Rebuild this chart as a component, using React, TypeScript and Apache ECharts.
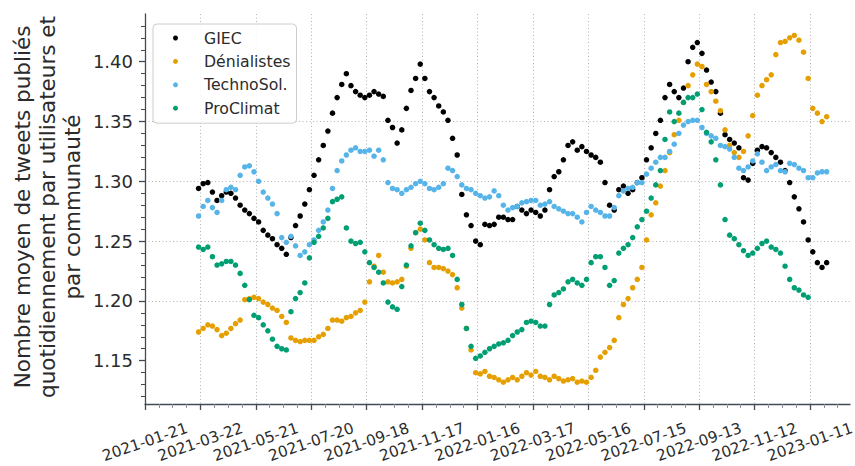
import React, { useEffect, useRef } from "react";
import * as echarts from "echarts";

// ---- axis definitions ----
const AXIS_START = "2021-01-21";
const AXIS_END_DAY = 763.3;
const X_TICK_DAYS = [0, 60, 120, 180, 240, 300, 360, 420, 480, 540, 600, 660, 720];
const Y_TICKS = [1.15, 1.2, 1.25, 1.3, 1.35, 1.4];
const Y_MIN = 1.1138;
const Y_MAX = 1.4399;

// ---- data sampling ----
const DATA_START = "2021-03-20";
const DATA_STEP_DAYS = 5;

const SERIES_NAMES = ["GIEC", "Dénialistes", "TechnoSol.", "ProClimat"];
const COLORS = ["#000000", "#E69F00", "#56B4E9", "#009E73"];

const GIEC = [
  1.294, 1.298, 1.299, 1.291, 1.284, 1.288, 1.291, 1.29, 1.286, 1.28,
  1.276, 1.273, 1.269, 1.266, 1.259, 1.255, 1.252, 1.247, 1.244, 1.239,
  1.253, 1.263, 1.271, 1.281, 1.293, 1.305, 1.318, 1.33, 1.342, 1.357,
  1.37, 1.381, 1.39, 1.38, 1.375, 1.372, 1.37, 1.372, 1.375, 1.373,
  1.371, 1.351, 1.345, 1.332, 1.343, 1.361, 1.376, 1.386, 1.398, 1.386,
  1.375, 1.37, 1.363, 1.358, 1.351, 1.336, 1.322, 1.289, 1.272, 1.263,
  1.25, 1.247, 1.264, 1.263, 1.264, 1.27, 1.27, 1.268, 1.268, 1.279,
  1.276, 1.273, 1.276, 1.274, 1.271, 1.276, 1.293, 1.304, 1.308, 1.318,
  1.33, 1.333, 1.326, 1.329, 1.325, 1.322, 1.32, 1.316, 1.299, 1.28,
  1.276, 1.293, 1.296, 1.29, 1.293, 1.299, 1.303, 1.318, 1.328, 1.34,
  1.351, 1.37, 1.381, 1.375, 1.37, 1.378, 1.4, 1.412, 1.416, 1.407,
  1.393, 1.383, 1.375, 1.357, 1.339, 1.335, 1.332, 1.328, 1.303, 1.301,
  1.315, 1.326, 1.329, 1.328, 1.324, 1.32, 1.316, 1.309, 1.299, 1.287,
  1.277, 1.266, 1.251, 1.241, 1.232, 1.228, 1.232,
];

const DENIALISTES = [
  1.174, 1.177, 1.18, 1.179, 1.176, 1.171, 1.173, 1.177, 1.181, 1.184,
  1.201, 1.202, 1.203, 1.202, 1.199, 1.197, 1.194, 1.192, 1.187, 1.182,
  1.169, 1.167, 1.166, 1.167, 1.167, 1.167, 1.17, 1.172, 1.177, 1.184,
  1.184, 1.183, 1.186, 1.187, 1.19, 1.192, 1.199, 1.216, 1.229, 1.238,
  1.224, 1.216, 1.215, 1.216, 1.218, 1.229, 1.244, 1.257, 1.26, 1.251,
  1.232, 1.228, 1.228, 1.227, 1.225, 1.222, 1.211, 1.194, 1.177, 1.159,
  1.14, 1.139, 1.141, 1.137, 1.136, 1.134, 1.132, 1.134, 1.136, 1.134,
  1.137, 1.14, 1.138, 1.141, 1.137, 1.136, 1.134, 1.137, 1.135, 1.133,
  1.134, 1.135, 1.132, 1.133, 1.132, 1.136, 1.142, 1.153, 1.157, 1.161,
  1.167, 1.186, 1.197, 1.202, 1.211, 1.218, 1.228, 1.251, 1.272, 1.282,
  1.296, 1.309, 1.324, 1.339, 1.351, 1.366, 1.38, 1.389, 1.398, 1.396,
  1.381, 1.375, 1.367, 1.359, 1.343, 1.33, 1.324, 1.32, 1.325, 1.338,
  1.355, 1.372, 1.38, 1.385, 1.389, 1.406, 1.416, 1.417, 1.42, 1.422,
  1.418, 1.408, 1.386, 1.361, 1.357, 1.35, 1.354,
];

const TECHNOSOL = [
  1.271, 1.279, 1.284, 1.278, 1.274, 1.284, 1.293, 1.295, 1.293, 1.305,
  1.312, 1.313, 1.308, 1.3, 1.291, 1.286, 1.281, 1.273, 1.253, 1.249,
  1.254, 1.246, 1.238, 1.241, 1.247, 1.251, 1.259, 1.266, 1.276, 1.294,
  1.309, 1.317, 1.322, 1.326, 1.328, 1.325, 1.325, 1.326, 1.321, 1.326,
  1.318, 1.299, 1.294, 1.293, 1.29, 1.293, 1.295, 1.298, 1.3, 1.298,
  1.294, 1.293, 1.295, 1.298, 1.311, 1.309, 1.304, 1.297, 1.294, 1.293,
  1.29, 1.288, 1.286, 1.287, 1.292, 1.288, 1.28, 1.276, 1.278, 1.279,
  1.282, 1.283, 1.284, 1.284, 1.28, 1.281, 1.283, 1.279, 1.277, 1.275,
  1.273, 1.273, 1.27, 1.266, 1.274, 1.279, 1.276, 1.274, 1.271, 1.271,
  1.278, 1.288, 1.292, 1.294, 1.295, 1.299, 1.299, 1.306, 1.311, 1.316,
  1.32, 1.32, 1.325, 1.331, 1.34, 1.347, 1.35, 1.351, 1.351, 1.345,
  1.34, 1.338, 1.336, 1.33, 1.329, 1.327, 1.32, 1.311, 1.309, 1.312,
  1.317, 1.323, 1.316, 1.309, 1.312, 1.314, 1.309, 1.308, 1.315, 1.314,
  1.311, 1.309, 1.303, 1.303, 1.307, 1.308, 1.308,
];

const PROCLIMAT = [
  1.245, 1.243, 1.245, 1.237, 1.23, 1.231, 1.233, 1.233, 1.23, 1.223,
  1.213, 1.201, 1.188, 1.186, 1.18, 1.175, 1.168, 1.162, 1.16, 1.159,
  1.191, 1.202, 1.207, 1.215, 1.236, 1.249, 1.254, 1.261, 1.269, 1.283,
  1.285, 1.287, 1.261, 1.25, 1.248, 1.249, 1.241, 1.232, 1.228, 1.224,
  1.215, 1.199, 1.195, 1.193, 1.212, 1.23, 1.246, 1.257, 1.265, 1.259,
  1.251, 1.247, 1.244, 1.243, 1.244, 1.238, 1.218, 1.197, 1.177, 1.162,
  1.152, 1.154, 1.157, 1.16, 1.162, 1.164, 1.165, 1.167, 1.171, 1.174,
  1.176, 1.182, 1.183, 1.182, 1.179, 1.179, 1.197, 1.205, 1.207, 1.21,
  1.216, 1.218, 1.215, 1.213, 1.218, 1.232, 1.237, 1.237, 1.228, 1.213,
  1.217, 1.24, 1.244, 1.247, 1.253, 1.262, 1.268, 1.275, 1.286, 1.297,
  1.309, 1.335, 1.358, 1.35, 1.357, 1.366, 1.37, 1.37, 1.373, 1.36,
  1.341, 1.333, 1.318, 1.297, 1.268, 1.255, 1.252, 1.247, 1.242, 1.238,
  1.24, 1.244, 1.248, 1.25, 1.245, 1.243, 1.24, 1.229, 1.218, 1.211,
  1.209, 1.205, 1.203,
];

const SERIES_VALUES = [GIEC, DENIALISTES, TECHNOSOL, PROCLIMAT];

const Y_TITLE =
  "Nombre moyen de tweets publiés\nquotidiennement par utilisateurs et\npar communauté";

const DAY_MS = 86400000;
const axisStartMs = Date.parse(AXIS_START + "T00:00:00Z");
const dataOffsetDays = (Date.parse(DATA_START + "T00:00:00Z") - axisStartMs) / DAY_MS;

function dayToLabel(d: number): string {
  const dt = new Date(axisStartMs + Math.round(d) * DAY_MS);
  return dt.toISOString().slice(0, 10);
}

const AXIS_COLOR = "#434955";
const TEXT_COLOR = "#2b2b2b";
const GRID_COLOR = "#b3b3b3";
const FONT = "DejaVu Sans";

export default function App() {
  const ref = useRef<HTMLDivElement>(null);

  useEffect(() => {
    document.body.style.margin = "0";
    if (!ref.current) return;
    const chart = echarts.init(ref.current, undefined, { renderer: "svg" });

    const series = SERIES_VALUES.map((vals, k) => ({
      name: SERIES_NAMES[k],
      type: "scatter",
      symbol: "circle",
      symbolSize: 5.5,
      itemStyle: { color: COLORS[k], opacity: 1 },
      data: vals.map((v, i) => [dataOffsetDays + i * DATA_STEP_DAYS, v]),
      z: 2 + k,
    }));

    chart.setOption({
      animation: false,
      backgroundColor: "#ffffff",
      textStyle: { fontFamily: FONT },
      grid: {
        left: 145,
        right: 5,
        top: 14,
        bottom: 62,
        containLabel: false,
        outerBoundsMode: "none",
      },
      legend: {
        orient: "vertical",
        left: 153,
        top: 24,
        data: SERIES_NAMES.map((n) => ({ name: n, icon: "circle" })),
        itemWidth: 5,
        itemHeight: 5,
        itemGap: 5.4,
        padding: [5, 6, 6, 20],
        backgroundColor: "rgba(255,255,255,0.85)",
        borderColor: "#cccccc",
        borderWidth: 1,
        borderRadius: 4,
        textStyle: {
          fontFamily: FONT,
          fontSize: 15.7,
          color: TEXT_COLOR,
          lineHeight: 18,
          padding: [0, 0, 0, 21],
        },
      },
      graphic: [
        {
          type: "text",
          x: 47,
          y: 207,
          rotation: Math.PI / 2,
          style: {
            text: Y_TITLE,
            fontFamily: FONT,
            fontSize: 21.5,
            lineHeight: 25,
            fill: TEXT_COLOR,
            textAlign: "center",
            textVerticalAlign: "middle",
          },
        },
      ],
      xAxis: {
        type: "value",
        min: 0,
        max: AXIS_END_DAY,
        interval: 60,
        axisLine: { show: true, lineStyle: { color: AXIS_COLOR, width: 1.3 } },
        axisTick: {
          show: true,
          customValues: X_TICK_DAYS,
          length: 6,
          lineStyle: { color: AXIS_COLOR, width: 1.3 },
        },
        minorTick: {
          show: true,
          splitNumber: 4,
          length: 4,
          lineStyle: { color: "#8a8f99", width: 1 },
        },
        axisLabel: {
          customValues: X_TICK_DAYS,
          formatter: (v: number) => dayToLabel(v),
          rotate: 19,
          align: "center",
          verticalAlign: "middle",
          margin: 38,
          fontSize: 15.3,
          fontFamily: FONT,
          color: TEXT_COLOR,
        },
        splitLine: {
          show: true,
          lineStyle: { color: GRID_COLOR, type: [1, 2.5], width: 1 },
        },
        minorSplitLine: { show: false },
      },
      yAxis: {
        type: "value",
        min: Y_MIN,
        max: Y_MAX,
        axisLine: { show: true, lineStyle: { color: AXIS_COLOR, width: 1.3 } },
        axisTick: {
          show: true,
          customValues: Y_TICKS,
          length: 6,
          lineStyle: { color: AXIS_COLOR, width: 1.3 },
        },
        minorTick: {
          show: true,
          splitNumber: 5,
          length: 4,
          lineStyle: { color: AXIS_COLOR, width: 1 },
        },
        axisLabel: {
          customValues: Y_TICKS,
          formatter: (v: number) => v.toFixed(2),
          margin: 12,
          fontSize: 18,
          fontFamily: FONT,
          color: TEXT_COLOR,
        },
        splitLine: {
          show: true,
          showMinLine: false,
          showMaxLine: false,
          lineStyle: { color: GRID_COLOR, type: [1, 2.5], width: 1 },
        },
      },
      series,
    });

    return () => chart.dispose();
  }, []);

  return <div ref={ref} style={{ width: 855, height: 466 }} />;
}
